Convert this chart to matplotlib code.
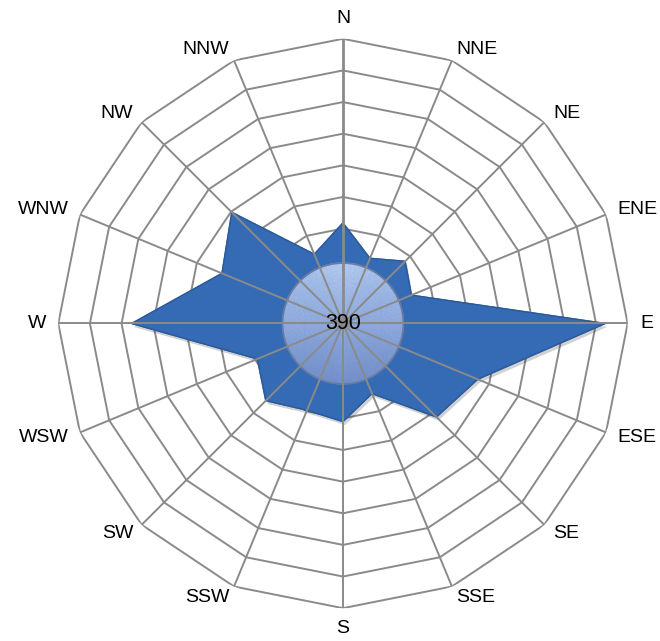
import numpy as np
import matplotlib
matplotlib.use('Agg')
import matplotlib.pyplot as plt
import matplotlib.patheffects as pe
from matplotlib.colors import LinearSegmentedColormap

# wind directions and their values (one ring = 1 unit)
directions = ['N', 'NNE', 'NE', 'ENE', 'E', 'ESE', 'SE', 'SSE',
              'S', 'SSW', 'SW', 'WSW', 'W', 'WNW', 'NW', 'NNW']
values = [3.18, 2.23, 2.78, 2.34, 8.29, 4.61, 4.18, 2.40,
          3.10, 2.97, 3.45, 2.93, 6.68, 4.14, 4.97, 2.37]
rings = [1, 2, 3, 4, 5, 6, 7, 8, 9]
hub_radius = 1.91
total_label = '390'

plt.rcParams['font.family'] = ['Liberation Sans', 'DejaVu Sans']

fig = plt.figure(figsize=(6.6, 6.41), dpi=100)
ax = fig.add_axes([0.0883, 0.0512, 0.8627, 0.8883], projection='polar')
ax.set_theta_zero_location('N')
ax.set_theta_direction(-1)
ax.set_ylim(0, rings[-1])
ax.axis('off')

theta = np.deg2rad(np.arange(len(directions)) * 360.0 / len(directions))
tc = np.append(theta, theta[0])
vc = np.append(values, values[0])

grid_col = '#8a8a8a'
# polygon rings
for r in rings:
    ax.plot(tc, [r] * len(tc), color=grid_col, lw=1.4, zorder=1)

# data polygon with a soft shadow
ax.fill(tc, vc, color='#346bb4', zorder=2,
        path_effects=[pe.SimplePatchShadow(offset=(1.5, -2.5), shadow_rgbFace='k', alpha=0.18),
                      pe.Normal()])
ax.plot(tc, vc, color='#2c5a98', lw=1.0, zorder=2.1)

# centre hub with a vertical gradient
hub_cmap = LinearSegmentedColormap.from_list('hub', ['#7590c9', '#8eaadd', '#b2c8ee'])
th_e = np.linspace(0, 2 * np.pi, 241)
r_e = np.linspace(0, hub_radius, 31)
th_c = 0.5 * (th_e[:-1] + th_e[1:])
r_c = 0.5 * (r_e[:-1] + r_e[1:])
C = np.outer(r_c, np.cos(th_c))
ax.pcolormesh(th_e, r_e, C, cmap=hub_cmap, vmin=-hub_radius, vmax=hub_radius,
              shading='flat', zorder=3, antialiased=True, edgecolor='face', lw=0.3)
th_f = np.linspace(0, 2 * np.pi, 361)
ax.plot(th_f, [hub_radius] * len(th_f), color='#6a7ca3', lw=1.3, zorder=3.1)

# spokes on top
for t in theta:
    lw = 2.0 if t == 0 else 1.4
    ax.plot([t, t], [0, rings[-1]], color=grid_col, lw=lw, zorder=4)

ax.text(0, 0, total_label, ha='center', va='center', fontsize=15.5, zorder=5)

# direction labels
r_lab = rings[-1] * 1.043
for t, name in zip(theta, directions):
    s, c = np.sin(t), np.cos(t)
    if abs(s) < 1e-6:
        ha = 'center'
        va = 'bottom' if c > 0 else 'top'
    else:
        ha = 'left' if s > 0 else 'right'
        va = 'center'
    ax.text(t, r_lab, name, ha=ha, va=va, fontsize=14)

fig.savefig('out.png', dpi=100)
